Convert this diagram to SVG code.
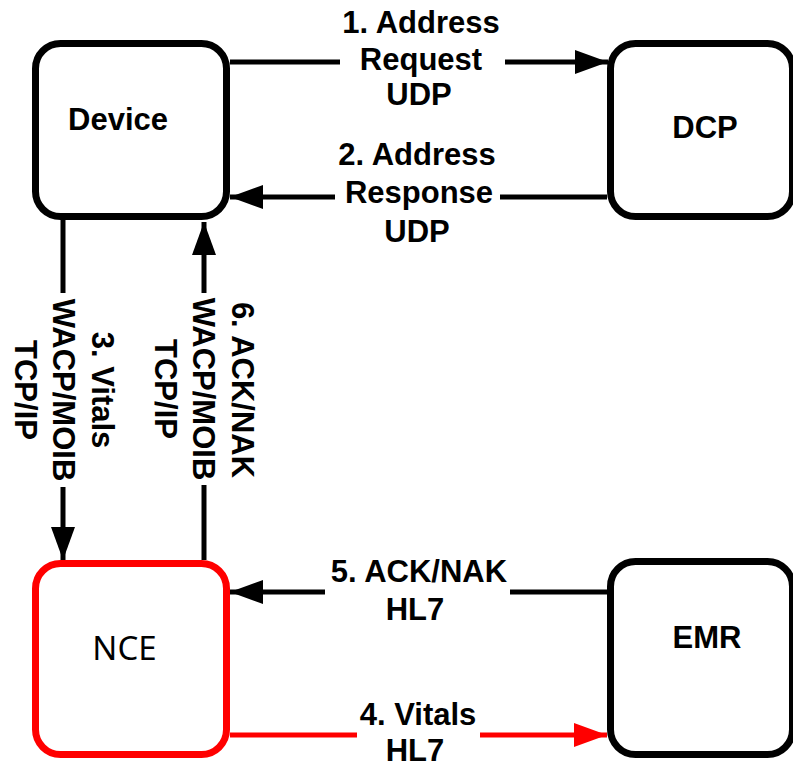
<svg xmlns="http://www.w3.org/2000/svg" width="793" height="767" viewBox="0 0 793 767">
<style>
.box{fill:#fff;stroke:#000;stroke-width:7}
.red{stroke:#ff0000}
.lbl{font-family:"Liberation Sans",Arial,sans-serif;font-weight:bold;font-size:31px;fill:#000;text-anchor:middle}
.ln{fill:none;stroke:#000;stroke-width:5}
.lnr{fill:none;stroke:#ff0000;stroke-width:5}
</style>
<defs>
<marker id="ah" markerUnits="userSpaceOnUse" markerWidth="34" markerHeight="24" refX="33" refY="12" orient="auto">
<path d="M0,0 L33,12 L0,24 z" fill="#000"/>
</marker>
<marker id="ahr" markerUnits="userSpaceOnUse" markerWidth="34" markerHeight="24" refX="33" refY="12" orient="auto">
<path d="M0,0 L33,12 L0,24 z" fill="#ff0000"/>
</marker>
</defs>
<rect width="793" height="767" fill="#fff"/>
<g id="connectors">
<line class="ln" x1="230" y1="62" x2="340" y2="62"/>
<line class="ln" x1="505" y1="62" x2="608" y2="62" marker-end="url(#ah)"/>
<line class="ln" x1="607" y1="197" x2="500" y2="197"/>
<line class="ln" x1="335" y1="197" x2="230" y2="197" marker-end="url(#ah)"/>
<line class="ln" x1="63" y1="220" x2="63" y2="293"/>
<line class="ln" x1="63" y1="487" x2="63" y2="560" marker-end="url(#ah)"/>
<line class="ln" x1="204" y1="560" x2="204" y2="485"/>
<line class="ln" x1="204" y1="293" x2="204" y2="222" marker-end="url(#ah)"/>
<line class="ln" x1="607" y1="592" x2="510" y2="592"/>
<line class="ln" x1="325" y1="592" x2="230" y2="592" marker-end="url(#ah)"/>
<line class="lnr" x1="230" y1="735" x2="357" y2="735"/>
<line class="lnr" x1="480" y1="735" x2="607" y2="735" marker-end="url(#ahr)"/>
<g class="lbl">
<text x="421" y="33">1. Address</text>
<text x="421" y="70">Request</text>
<text x="419" y="105">UDP</text>
<text x="417" y="165">2. Address</text>
<text x="419" y="203">Response</text>
<text x="417" y="242">UDP</text>
<text x="419" y="582">5. ACK/NAK</text>
<text x="415" y="620">HL7</text>
<text x="418" y="725">4. Vitals</text>
<text x="415" y="761">HL7</text>
<text transform="translate(92,390) rotate(90)">3. Vitals</text>
<text transform="translate(53,390) rotate(90)">WACP/MOIB</text>
<text transform="translate(15,390) rotate(90)">TCP/IP</text>
<text transform="translate(232,390) rotate(90)">6. ACK/NAK</text>
<text transform="translate(193,389) rotate(90)">WACP/MOIB</text>
<text transform="translate(155,389) rotate(90)">TCP/IP</text>
</g>
</g>
<g id="device">
<rect class="box" x="35.5" y="43.5" width="191" height="173" rx="25"/>
<text class="lbl" x="118" y="130">Device</text>
</g>
<g id="dcp">
<rect class="box" x="610.5" y="43.5" width="182" height="173" rx="25"/>
<text class="lbl" x="705" y="138">DCP</text>
</g>
<g id="nce">
<rect class="box red" x="35.5" y="563.5" width="191" height="191" rx="25"/>
<text x="124.5" y="660" font-family="'Noto Sans',sans-serif" font-size="33" text-anchor="middle" fill="#000">NCE</text>
</g>
<g id="emr">
<rect class="box" x="610.5" y="561.5" width="182" height="193" rx="25"/>
<text class="lbl" x="707" y="648">EMR</text>
</g>
</svg>
